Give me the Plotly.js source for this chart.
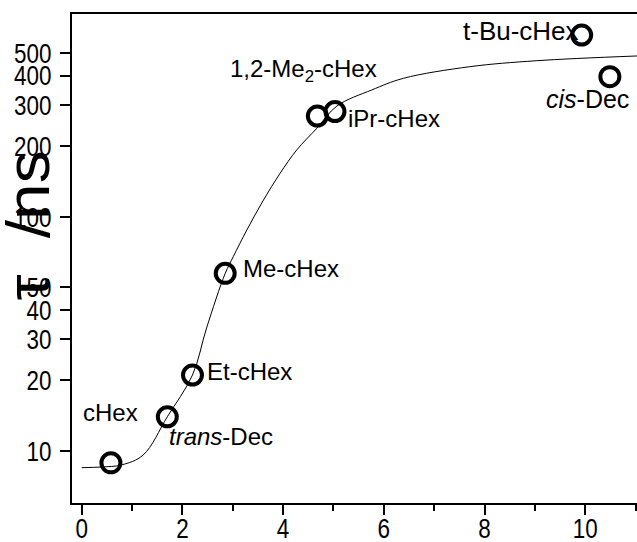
<!DOCTYPE html>
<html>
<head>
<meta charset="utf-8">
<script src="https://cdn.plot.ly/plotly-3.0.1.min.js"></script>
<style>html,body{margin:0;padding:0;overflow:hidden;background:#fff;}</style>
</head>
<body>
<div id="chart" style="width:637px;height:542px;"></div>
<script>
// Solvent data points (x: abscissa value, tau in ns)
const solvents = ['cHex', '<i>trans</i>-Dec', 'Et-cHex', 'Me-cHex', '1,2-Me<sub>2</sub>-cHex', 'iPr-cHex', 't-Bu-cHex', '<i>cis</i>-Dec'];
const xVals = [0.58, 1.70, 2.20, 2.85, 4.68, 5.03, 9.93, 10.49];
const tauVals = [8.9, 14.0, 21.1, 57.3, 269, 281, 596, 396];

// Fitted curve
const fitX = [0, 0.40, 0.79, 1.22, 1.70, 2.20, 2.48, 2.85, 3.01, 3.28, 3.61, 3.94, 4.27, 4.67, 5.07, 5.76, 6.39, 7.71, 9.04, 11.03];
const fitY = [8.49, 8.55, 8.72, 9.61, 14.0, 21.1, 33.5, 57.3, 67.5, 87.8, 117.8, 153.2, 192.6, 238.5, 296.9, 347.4, 389.6, 436.8, 463.2, 485.3];

// Axis ticks
const yTickVals = [10, 20, 30, 40, 50, 100, 200, 300, 400, 500];
const yTickText = ['10', '20', '30', '40', '50', '100', '200', '300', '400', '500'];
const xTickVals = [0, 2, 4, 6, 8, 10];

// Label offsets (px) relative to each point
const labelDx = [0, 54, 57, 66, -14, 59, -61, -22];
const labelDy = [-50, 20, -4, -5, -46, 7, -4, 22];
const labelSize = [24, 24, 24, 24, 24, 24, 26, 25];

const FONT = '"Liberation Sans", Arial, sans-serif';
const tickFont = {family: FONT, size: 28, color: '#000'};

const traces = [
  {
    x: fitX, y: fitY, type: 'scatter', mode: 'lines',
    line: {color: '#000', width: 1, shape: 'spline', smoothing: 1},
    hoverinfo: 'skip', showlegend: false
  },
  {
    x: xVals, y: tauVals, type: 'scatter', mode: 'markers',
    marker: {symbol: 'circle-open', size: 19, color: '#000', line: {width: 4, color: '#000'}},
    showlegend: false
  }
];

const annotations = solvents.map((s, i) => ({
  x: xVals[i], y: Math.log10(tauVals[i]), xref: 'x', yref: 'y',
  text: s, showarrow: true, arrowcolor: 'rgba(0,0,0,0)', arrowwidth: 0.1,
  ax: labelDx[i], ay: labelDy[i], font: {family: FONT, size: labelSize[i], color: '#000'}
}));

annotations.push({
  xref: 'paper', yref: 'paper', x: -0.079, y: 0.5685, xanchor: 'center', yanchor: 'middle',
  text: 'τ  /ns', textangle: -90, showarrow: false,
  font: {family: FONT, size: 62, color: '#000'}
});

const layout = {
  width: 637, height: 542,
  margin: {l: 72, r: 0, t: 14, b: 39},
  paper_bgcolor: '#fff', plot_bgcolor: '#fff',
  showlegend: false,
  xaxis: {
    range: [-0.193, 11.029], showgrid: false, zeroline: false,
    showline: true, linecolor: '#000', linewidth: 2, mirror: true,
    ticks: 'outside', ticklen: 10, tickwidth: 2, tickcolor: '#000',
    tickvals: xTickVals, tickfont: tickFont, ticklabelstandoff: -11,
    minor: {dtick: 1, tick0: 0, ticks: 'outside', ticklen: 6, tickwidth: 2, tickcolor: '#000'}
  },
  yaxis: {
    type: 'log', range: [0.7781, 2.8651], showgrid: false, zeroline: false,
    showline: true, linecolor: '#000', linewidth: 2, mirror: false,
    ticks: 'outside', ticklen: 10, tickwidth: 2, tickcolor: '#000',
    tickvals: yTickVals, ticktext: yTickText, tickfont: tickFont, ticklabelstandoff: 3
  },
  annotations: annotations
};

function condense(el, factor, fixed) {
  var w = el.getComputedTextLength();
  if (w > 0) {
    el.setAttribute('textLength', (fixed ? fixed : w * factor).toFixed(1));
    el.setAttribute('lengthAdjust', 'spacingAndGlyphs');
  }
}

Plotly.newPlot('chart', traces, layout, {displayModeBar: false, staticPlot: true}).then(function (gd) {
  // condense tick labels and the axis title like the narrow font of the original
  gd.querySelectorAll('.xtick text, .ytick text').forEach(function (t) { condense(t, 0.8); });
  gd.querySelectorAll('.annotation-text').forEach(function (t) {
    if (t.textContent.indexOf('/ns') >= 0) condense(t, 0, 150);
  });
});
</script>
</body>
</html>
